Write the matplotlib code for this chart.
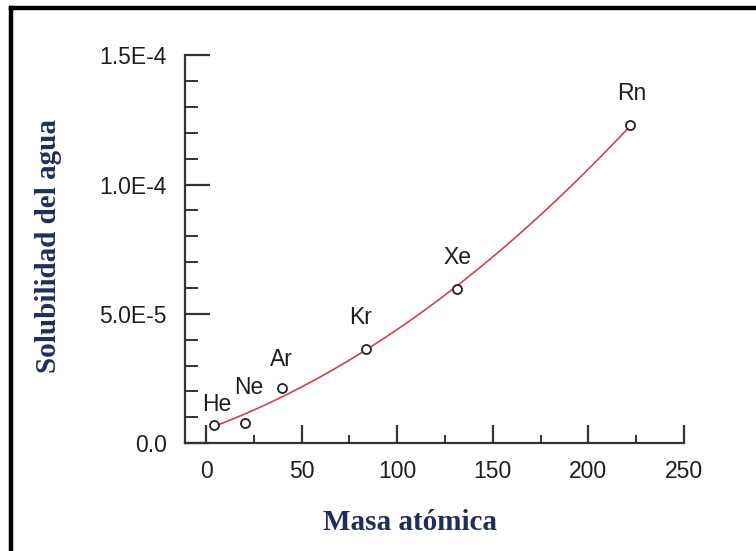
import numpy as np
import matplotlib.pyplot as plt
from matplotlib.lines import Line2D

# noble gases: atomic mass vs. solubility in water
elements = ["He", "Ne", "Ar", "Kr", "Xe", "Rn"]
masa = [4.0, 20.2, 39.9, 83.8, 131.3, 222.0]
solubilidad = [7.0e-6, 7.9e-6, 2.13e-5, 3.62e-5, 5.98e-5, 1.231e-4]

# label offsets in points relative to each marker
label_offsets = [(2, 15), (3, 25), (-0.7, 20.5), (-4.3, 23), (0, 22.5), (1, 23)]

x_ticks = [0, 50, 100, 150, 200, 250]
y_ticks = [0.0, 5.0e-5, 1.0e-4, 1.5e-4]
y_ticklabels = ["0.0", "5.0E-5", "1.0E-4", "1.5E-4"]

axis_color = "#333333"
text_color = "#1e1e1e"
title_color = "#1f2f5c"

fig = plt.figure(figsize=(7.56, 5.51), dpi=100)
ax = fig.add_axes([0.2447, 0.196, 0.6601, 0.7033])

# quadratic trend through the points
coef = np.polyfit(masa, solubilidad, 2)
xs = np.linspace(min(masa), max(masa), 200)
ax.plot(xs, np.polyval(coef, xs), color="#c8454f", lw=1.2, zorder=2)
ax.plot(masa, solubilidad, "o", ms=6.5, mfc="white", mec="#222222", mew=1.3, zorder=3)

for name, x, y, off in zip(elements, masa, solubilidad, label_offsets):
    ax.annotate(name, (x, y), xytext=off, textcoords="offset points",
                ha="center", va="center", fontsize=16.5, color=text_color,
                family="Liberation Sans")

ax.set_xlim(-11, 250)
ax.set_ylim(0, 1.5e-4)

for side in ("top", "right"):
    ax.spines[side].set_visible(False)
for side in ("left", "bottom"):
    ax.spines[side].set_color(axis_color)
    ax.spines[side].set_linewidth(1.6)

ax.set_xticks(x_ticks)
ax.set_xticks(np.arange(25, 250, 50), minor=True)
ax.set_yticks(y_ticks)
ax.set_yticklabels(y_ticklabels)
ax.set_yticks(np.arange(1e-5, 1.5e-4, 1e-5), minor=True)

ax.tick_params(axis="x", which="major", direction="in", length=13, width=1.6,
               color=axis_color, pad=12, labelsize=16.5, labelcolor=text_color)
ax.tick_params(axis="x", which="minor", direction="in", length=6, width=1.4,
               color=axis_color)
ax.tick_params(axis="y", which="major", direction="in", length=18, width=1.6,
               color=axis_color, pad=13, labelsize=16.5, labelcolor=text_color)
ax.tick_params(axis="y", which="minor", direction="in", length=9.5, width=1.4,
               color=axis_color)
for lbl in ax.get_xticklabels() + ax.get_yticklabels():
    lbl.set_family("Liberation Sans")

fig.text(0.0635, 0.553, "Solubilidad del agua", rotation=90, ha="center", va="center",
         fontsize=21, fontweight="bold", color=title_color, family="Liberation Serif")
fig.text(0.542, 0.051, "Masa atómica", ha="center", va="center",
         fontsize=21, fontweight="bold", color=title_color, family="Liberation Serif")

# black frame on the left and top edges
frame_x = 11 / 756
frame_y = 1 - 8 / 551
fig.add_artist(Line2D([frame_x, frame_x], [0, frame_y], transform=fig.transFigure,
                      color="black", lw=3.2, solid_capstyle="projecting"))
fig.add_artist(Line2D([frame_x, 1], [frame_y, frame_y], transform=fig.transFigure,
                      color="black", lw=3.2, solid_capstyle="projecting"))

fig.savefig("out.png", dpi=100)
